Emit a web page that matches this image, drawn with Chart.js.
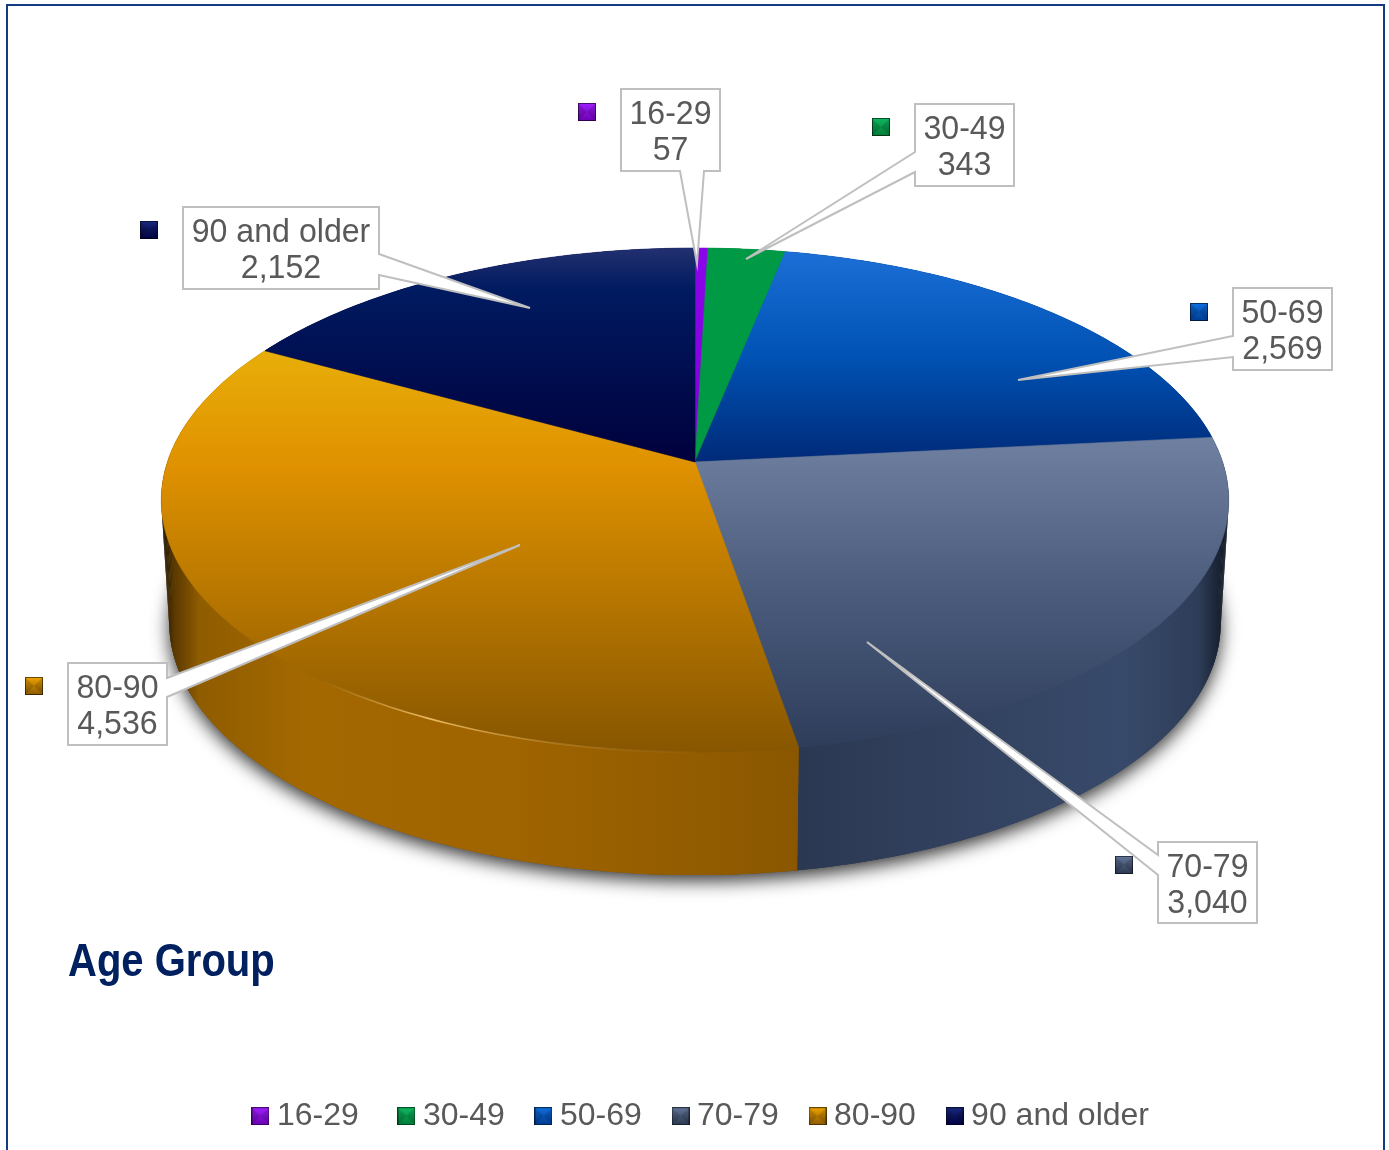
<!DOCTYPE html>
<html>
<head>
<meta charset="utf-8">
<title>Age Group</title>
<style>html,body{margin:0;padding:0;background:#fff;overflow:hidden}canvas{display:block}</style>
<script src="https://cdn.jsdelivr.net/npm/chart.js@4"></script>
</head>
<body>
<canvas id="c" width="1389" height="1150"></canvas>
<script>
const categories = ['16-29', '30-49', '50-69', '70-79', '80-90', '90 and older'];
const values = [57, 343, 2569, 3040, 4536, 2152];
const chartTitle = 'Age Group';

// colour styling
const baseColors = ['#8a00e6', '#009a44', '#0055bb', '#44546f', '#d98e00', '#00105a'];
const faceStops = [
  [[0, '#8a05e8'], [1, '#8200dc']],
  [[0, '#009a46'], [1, '#009a44']],
  [[0, '#1b6fd6'], [0.5, '#0052b4'], [1, '#002a78']],
  [[0, '#6f80a0'], [0.5, '#4a5b7c'], [1, '#2e3d5a']],
  [[0, '#e8ae08'], [0.28, '#e09200'], [1, '#875600']],
  [[0, '#22306f'], [0.2, '#001a60'], [1, '#00003c']]
];
const keyStops = [
  ['#a020ff', '#6a00b0'], ['#10b860', '#007a36'], ['#1070e0', '#003a90'],
  ['#64769a', '#2a3850'], ['#f0a400', '#8a5800'], ['#1a2a80', '#000040']
];
const wallStops = [
  [[0, '#1e1a30'], [1, '#1e1a30']],
  [[0, '#006a30'], [1, '#006a30']],
  [[0, '#002a78'], [1, '#002a78']],
  [[0, '#2b3852'], [0.75, '#384a6b'], [0.93, '#2e3d58'], [1, '#0e1520']],
  [[0, '#120b00'], [0.02, '#5a3800'], [0.06, '#8f5c00'], [0.22, '#a36800'], [0.55, '#a06400'], [1, '#8a5700']],
  [[0, '#000030'], [1, '#000030']]
];

// geometry of the tilted disc (perspective projection of a circle)
const disc = { cx: 695, cy: 462, a: 527.6, b: 246.3, k: 0.151, depth: 123, bottomScale: 0.985 };

// callout placement: box, pointer base, pointer tip, key square
const callouts = [
  { box: [621, 89, 99, 82],  side: 'bottom', base: [680, 704], tip: [697, 264],  key: [578, 103] },
  { box: [915, 104, 99, 82], side: 'left',   base: [152, 172], tip: [746, 259],  key: [872, 118] },
  { box: [1233, 288, 99, 82],side: 'left',   base: [336, 357], tip: [1018, 380], key: [1190, 303] },
  { box: [1158, 842, 99, 81],side: 'left',   base: [855, 875], tip: [867, 642],  key: [1115, 856] },
  { box: [68, 663, 99, 82],  side: 'right',  base: [678, 697], tip: [520, 545],  key: [25, 677] },
  { box: [183, 207, 196, 82],side: 'right',  base: [254, 275], tip: [530, 308],  key: [140, 221] }
];

const FONT = '"Liberation Sans", Arial, sans-serif';
const TEXT = '#595959';

function makeKey(stops) {
  const s = 18, cv = document.createElement('canvas');
  cv.width = s; cv.height = s;
  const g = cv.getContext('2d');
  const lg = g.createLinearGradient(0, 0, 0, s);
  lg.addColorStop(0, stops[0]); lg.addColorStop(1, stops[1]);
  g.fillStyle = lg; g.fillRect(0, 0, s, s);
  g.fillStyle = 'rgba(0,0,0,0.14)';
  g.beginPath(); g.moveTo(0, 0); g.lineTo(s / 2, s / 2); g.lineTo(0, s); g.closePath(); g.fill();
  g.beginPath(); g.moveTo(s, 0); g.lineTo(s / 2, s / 2); g.lineTo(s, s); g.closePath(); g.fill();
  g.strokeStyle = 'rgba(0,0,0,0.55)'; g.lineWidth = 1; g.strokeRect(0.5, 0.5, s - 1, s - 1);
  return cv;
}
const keys = keyStops.map(makeKey);

function project(theta, lower) {
  const u = Math.sin(theta), v = Math.cos(theta), w = 1 + disc.k * v;
  const sc = lower ? disc.bottomScale : 1;
  return [disc.cx + sc * disc.a * u / w, disc.cy + (lower ? disc.depth : 0) - disc.b * v / w];
}
function arcPoints(t0, t1, lower) {
  const n = Math.max(2, Math.ceil(Math.abs(t1 - t0) / (Math.PI / 180)));
  const out = [];
  for (let i = 0; i <= n; i++) out.push(project(t0 + (t1 - t0) * i / n, lower));
  return out;
}
function tracePath(ctx, pts) {
  ctx.beginPath();
  pts.forEach((p, i) => i ? ctx.lineTo(p[0], p[1]) : ctx.moveTo(p[0], p[1]));
  ctx.closePath();
}
function gradient(ctx, x0, y0, x1, y1, stops) {
  const g = ctx.createLinearGradient(x0, y0, x1, y1);
  stops.forEach(s => g.addColorStop(s[0], s[1]));
  return g;
}

const pie3d = {
  id: 'pie3d',
  beforeDraw(chart) {
    const ctx = chart.ctx;
    ctx.save();
    ctx.strokeStyle = '#123a85'; ctx.lineWidth = 2;
    ctx.strokeRect(7, 5, 1377, 1300);
    ctx.restore();
    const t = chart.titleBlock;
    if (t && !t._wrapped) {
      t._wrapped = true;
      const d = t.draw;
      t.draw = function () {
        ctx.save(); ctx.translate(68, 0); ctx.scale(0.87, 1); ctx.translate(-68, 0);
        d.call(t); ctx.restore();
      };
    }
  },
  afterLayout(chart) {
    const t = chart.titleBlock, l = chart.legend;
    t.top = 936; t.bottom = 936 + t.height; t.left = 68; t.right = 1389;
    l.top = 1062; l.bottom = 1062 + l.height; l.left = 10; l.right = 1399;
  },
  beforeDatasetDraw(chart, args) {
    const ctx = chart.ctx;
    const arcs = chart.getDatasetMeta(args.index).data;
    const ang = arcs.map(a => {
      const p = a.getProps(['startAngle', 'endAngle'], true);
      return [p.startAngle + Math.PI / 2, p.endAngle + Math.PI / 2];
    });

    // soft ground shadow
    ctx.save();
    ctx.shadowColor = 'rgba(0,0,0,0.8)';
    ctx.shadowBlur = 18; ctx.shadowOffsetY = 6;
    ctx.fillStyle = '#444';
    tracePath(ctx, arcPoints(0, Math.PI * 2, true));
    ctx.fill();
    ctx.restore();

    // side walls: a band for each slice plus its swept quads, so the silhouette is closed
    ang.forEach((t, i) => {
      const top = arcPoints(t[0], t[1], false), low = arcPoints(t[0], t[1], true);
      const pts = top.concat(low.slice().reverse());
      const xs = pts.map(p => p[0]);
      ctx.fillStyle = gradient(ctx, Math.min(...xs), 0, Math.max(...xs), 0, wallStops[i]);
      tracePath(ctx, pts);
      ctx.fill();
      for (let j = 0; j < top.length - 1; j++) {
        tracePath(ctx, [top[j], top[j + 1], low[j + 1], low[j]]);
        ctx.fill();
      }
    });

    // top faces
    ang.forEach((t, i) => {
      const pts = [[disc.cx, disc.cy]].concat(arcPoints(t[0], t[1], false));
      const ys = pts.map(p => p[1]);
      const fill = gradient(ctx, 0, Math.min(...ys), 0, Math.max(...ys), faceStops[i]);
      ctx.fillStyle = fill; ctx.strokeStyle = fill; ctx.lineWidth = 0.6;
      tracePath(ctx, pts);
      ctx.fill(); ctx.stroke();
    });

    // highlight along the front rim of the largest slice
    const rim = ctx.createLinearGradient(320, 0, 720, 0);
    rim.addColorStop(0, 'rgba(255,200,110,0)');
    rim.addColorStop(0.27, 'rgba(255,205,120,0.8)');
    rim.addColorStop(0.6, 'rgba(255,200,110,0.25)');
    rim.addColorStop(1, 'rgba(255,200,110,0)');
    ctx.strokeStyle = rim; ctx.lineWidth = 1.6;
    ctx.beginPath();
    arcPoints(Math.PI * 1.0, Math.PI * 1.3, false).forEach((p, i) => i ? ctx.lineTo(p[0], p[1]) : ctx.moveTo(p[0], p[1]));
    ctx.stroke();

    // callouts
    callouts.forEach((c, i) => {
      const [x, y, w, h] = c.box, r = x + w, bt = y + h;
      let pts;
      if (c.side === 'bottom') pts = [[x, y], [r, y], [r, bt], [c.base[1], bt], c.tip, [c.base[0], bt], [x, bt]];
      else if (c.side === 'left') pts = [[x, y], [r, y], [r, bt], [x, bt], [x, c.base[1]], c.tip, [x, c.base[0]]];
      else pts = [[x, y], [r, y], [r, c.base[0]], c.tip, [r, c.base[1]], [r, bt], [x, bt]];
      ctx.fillStyle = '#fff'; ctx.strokeStyle = '#bfbfbf'; ctx.lineWidth = 2; ctx.lineJoin = 'miter';
      tracePath(ctx, pts);
      ctx.fill(); ctx.stroke();
      ctx.drawImage(keys[i], c.key[0], c.key[1]);
      ctx.save();
      ctx.fillStyle = TEXT; ctx.font = '34px ' + FONT; ctx.textAlign = 'center'; ctx.textBaseline = 'middle';
      ctx.translate(x + w / 2, y); ctx.scale(0.945, 1);
      ctx.fillText(categories[i], 0, 25.5);
      ctx.fillText(values[i].toLocaleString('en-US'), 0, 61.5);
      ctx.restore();
    });
    return false;
  }
};

new Chart(document.getElementById('c'), {
  type: 'pie',
  data: {
    labels: categories,
    datasets: [{ data: values, backgroundColor: baseColors, borderWidth: 0 }]
  },
  plugins: [pie3d],
  options: {
    responsive: false,
    animation: false,
    events: [],
    plugins: {
      tooltip: { enabled: false },
      title: {
        display: true, text: chartTitle, position: 'bottom', align: 'start', weight: 500,
        color: '#002060', padding: 0,
        font: { family: FONT, size: 46, weight: 'bold' }
      },
      legend: {
        position: 'bottom',
        labels: {
          color: TEXT,
          font: { family: FONT, size: 32 },
          padding: 38.2,
          usePointStyle: true,
          pointStyleWidth: 1,
          generateLabels: () => categories.map((c, i) => ({
            text: i === 0 ? c + '\u00a0' : c,
            fontColor: TEXT,
            pointStyle: keys[i],
            fillStyle: baseColors[i],
            strokeStyle: baseColors[i],
            lineWidth: 0,
            hidden: false,
            datasetIndex: 0,
            index: i
          }))
        }
      }
    }
  }
});
</script>
</body>
</html>
